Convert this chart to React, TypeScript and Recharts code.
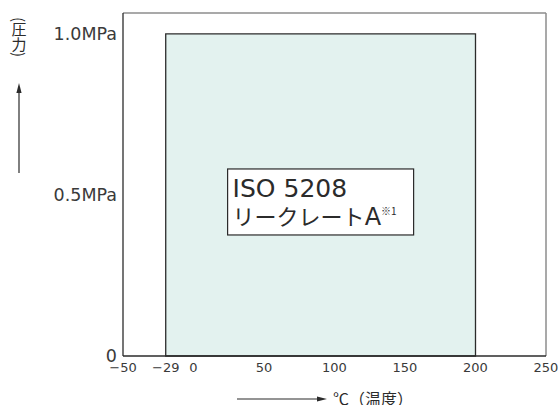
import React from 'react';
import { ComposedChart, XAxis, YAxis, ReferenceArea, ReferenceLine } from 'recharts';

// Temperature axis (°C)
const TEMP_TICKS = [-50, -29, 0, 50, 100, 150, 200, 250];
const TEMP_DOMAIN = [-50, 250];
// Pressure axis (MPa)
const PRESSURE_TICKS = [0, 0.5, 1.0];
const PRESSURE_DOMAIN = [0, 1.065];

// Rated working range (leak rate A)
const RATED_TEMP = [-29, 200];
const RATED_PRESSURE = [0, 1.0];

// The printed axis is not to scale between -50 and 0: -29 sits nearer to 0.
// Pairs of [value, where it is drawn on an even scale].
const TEMP_AXIS_KNOTS: [number, number][] = [
  [-50, -50],
  [-29, -19.7],
  [0, 0],
  [250, 250],
];

const chartData = RATED_TEMP.map((t, i) => ({ temp: t, pressure: RATED_PRESSURE[1] }));

const INK = '#2b2b2b';
const FRAME = '#8c8c8c';
const FILL = '#e3f2ef';
const LATIN = '"DejaVu Sans", "Noto Sans CJK JP", sans-serif';
const CJK = '"Noto Sans CJK JP", "DejaVu Sans", sans-serif';

// piecewise linear scale with the d3 scale interface recharts needs
function knotScale(knots: [number, number][]): any {
  let dom = [knots[0][0], knots[knots.length - 1][0]];
  let rng = [0, 1];

  const warp = (v: number) => {
    for (let i = 0; i < knots.length - 1; i++) {
      const [a, pa] = knots[i];
      const [b, pb] = knots[i + 1];
      if (v <= b || i === knots.length - 2) return pa + ((v - a) / (b - a)) * (pb - pa);
    }
    return v;
  };
  const unwarp = (p: number) => {
    for (let i = 0; i < knots.length - 1; i++) {
      const [a, pa] = knots[i];
      const [b, pb] = knots[i + 1];
      if (p <= pb || i === knots.length - 2) return a + ((p - pa) / (pb - pa)) * (b - a);
    }
    return p;
  };

  const scale: any = (v: number) => {
    const w0 = warp(dom[0]);
    const w1 = warp(dom[1]);
    return rng[0] + ((warp(Number(v)) - w0) / (w1 - w0)) * (rng[1] - rng[0]);
  };
  scale.domain = (d?: any[]) => {
    if (d === undefined) return dom.slice();
    dom = d.map(Number);
    return scale;
  };
  scale.range = (r?: any[]) => {
    if (r === undefined) return rng.slice();
    rng = r.map(Number);
    return scale;
  };
  scale.invert = (px: number) => {
    const w0 = warp(dom[0]);
    const w1 = warp(dom[1]);
    return unwarp(w0 + ((px - rng[0]) / (rng[1] - rng[0])) * (w1 - w0));
  };
  scale.ticks = () => TEMP_TICKS.slice();
  scale.nice = () => scale;
  scale.clamp = () => scale;
  scale.copy = () => knotScale(knots).domain(dom).range(rng);
  return scale;
}

const tempScale = knotScale(TEMP_AXIS_KNOTS);

const formatPressure = (v: number) => (v === 0 ? '0' : `${v.toFixed(1)}MPa`);
const formatTemp = (v: number) => (v < 0 ? `\u2212${Math.abs(v)}` : `${v}`);

const YTitle = (props: any) => {
  const { viewBox } = props;
  const cx = viewBox.x + 19;
  return (
    <g>
      <text
        x={cx}
        y={viewBox.y + 4}
        fill={INK}
        fontSize={15}
        fontFamily={CJK}
        style={{ writingMode: 'vertical-rl' } as any}
      >
        (圧力)
      </text>
      <line x1={cx} y1={viewBox.y + 78} x2={cx} y2={viewBox.y + 160} stroke={INK} strokeWidth={1.2} />
      <polygon
        points={`${cx},${viewBox.y + 70} ${cx - 2.6},${viewBox.y + 80} ${cx + 2.6},${viewBox.y + 80}`}
        fill={INK}
      />
    </g>
  );
};

const XTitle = (props: any) => {
  const { viewBox } = props;
  const y = viewBox.y + 43;
  const x0 = viewBox.x + 114;
  return (
    <g>
      <line x1={x0} y1={y} x2={x0 + 82} y2={y} stroke={INK} strokeWidth={1.2} />
      <polygon points={`${x0 + 90},${y} ${x0 + 80},${y - 2.6} ${x0 + 80},${y + 2.6}`} fill={INK} />
      <text x={x0 + 96} y={y + 6} fill={INK} fontSize={16} fontFamily={CJK}>
        ℃（温度）
      </text>
    </g>
  );
};

const RateBox = (props: any) => {
  const { viewBox } = props;
  const cx = viewBox.x + viewBox.width / 2;
  const cy = viewBox.y + viewBox.height / 2 + 7;
  const w = 186;
  const h = 66;
  const left = cx - w / 2;
  const top = cy - h / 2;
  return (
    <g>
      <rect x={left} y={top} width={w} height={h} fill="#ffffff" stroke={INK} strokeWidth={1.2} />
      <text x={left + 5} y={top + 28} fill={INK} fontSize={25} fontFamily={LATIN}>
        ISO 5208
      </text>
      <text x={left + 5} y={top + 56} fill={INK} fontFamily={CJK}>
        <tspan fontSize={22}>リークレート</tspan>
        <tspan fontSize={24} fontFamily={LATIN}>A</tspan>
        <tspan fontSize={10} dy={-10}>※1</tspan>
      </text>
    </g>
  );
};

export default function App() {
  return (
    <div style={{ position: 'absolute', left: 0, top: 0, width: 558, height: 405, background: '#ffffff' }}>
      <ComposedChart
        width={558}
        height={405}
        data={chartData}
        margin={{ top: 13, right: 12, bottom: 0, left: 0 }}
      >
        <XAxis
          dataKey="temp"
          type="number"
          scale={tempScale}
          domain={TEMP_DOMAIN}
          ticks={TEMP_TICKS}
          interval={0}
          allowDataOverflow
          height={49}
          tickLine={false}
          tickSize={6}
          tickMargin={1}
          axisLine={{ stroke: INK, strokeWidth: 1.3 }}
          tick={{ fill: '#3a3a3a', fontSize: 13, fontFamily: LATIN }}
          tickFormatter={formatTemp}
          label={{ content: XTitle }}
        />
        <YAxis
          type="number"
          domain={PRESSURE_DOMAIN}
          ticks={PRESSURE_TICKS}
          interval={0}
          allowDataOverflow
          width={123}
          tickLine={false}
          tickSize={6}
          tickMargin={0}
          axisLine={{ stroke: INK, strokeWidth: 1.3 }}
          tick={{ fill: '#3a3a3a', fontSize: 17.5, fontFamily: LATIN }}
          tickFormatter={formatPressure}
          label={{ content: YTitle }}
        />
        <ReferenceLine y={PRESSURE_DOMAIN[1]} stroke={FRAME} strokeWidth={1.5} ifOverflow="visible" />
        <ReferenceLine x={TEMP_DOMAIN[1]} stroke={FRAME} strokeWidth={1.5} ifOverflow="visible" />
        <ReferenceArea
          x1={RATED_TEMP[0]}
          x2={RATED_TEMP[1]}
          y1={RATED_PRESSURE[0]}
          y2={RATED_PRESSURE[1]}
          fill={FILL}
          fillOpacity={1}
          stroke={INK}
          strokeWidth={1.3}
          ifOverflow="visible"
          label={{ content: RateBox }}
        />
      </ComposedChart>
    </div>
  );
}
